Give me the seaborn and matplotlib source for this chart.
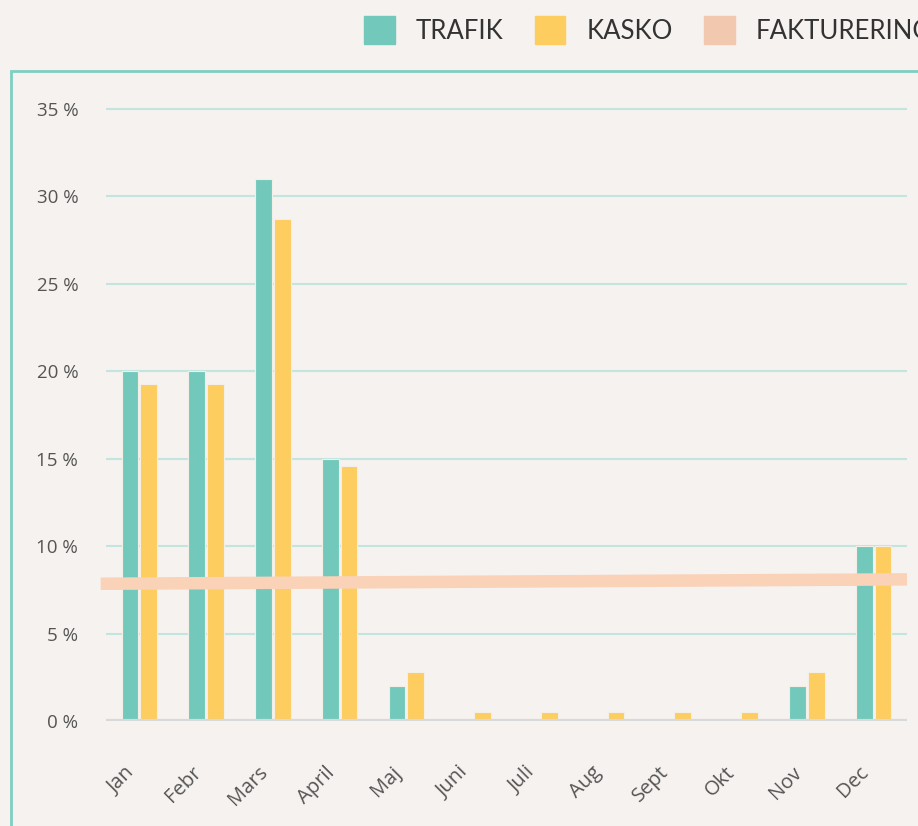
import pandas as pd
import numpy as np
import matplotlib.pyplot as plt
import matplotlib.patches as mpatches
import matplotlib.transforms as mtransforms
import seaborn as sns

# Data
months = ["Jan", "Febr", "Mars", "April", "Maj", "Juni", "Juli", "Aug", "Sept", "Okt", "Nov", "Dec"]
trafik = [20, 20, 31, 15, 2, 0, 0, 0, 0, 0, 2, 10]
kasko = [19.3, 19.3, 28.7, 14.6, 2.8, 0.5, 0.5, 0.5, 0.5, 0.5, 2.8, 10]
fakturering = [7.85, 8.1]  # start / end of the line

bg = "#F6F2EF"
teal = "#72C9BB"
yellow = "#FECD5F"
peach = "#FAD2B8"

df = pd.DataFrame({"Month": months * 2,
                   "Value": trafik + kasko,
                   "Serie": ["TRAFIK"] * 12 + ["KASKO"] * 12})

sns.set_style("white")
plt.rcParams['font.family'] = ['Open Sans', 'DejaVu Sans']

fig = plt.figure(figsize=(9.18, 8.26), dpi=100, facecolor=bg)
# 0 % at y=721, 35 % at y=109 -> leave a little headroom above 35 %
ax = fig.add_axes([106 / 918, 105 / 826, 801 / 918, 617.2 / 826])
ax.set_facecolor(bg)

sns.barplot(data=df, x="Month", y="Value", hue="Serie", palette=[teal, yellow],
            width=0.56, gap=0.1, ax=ax, legend=False, saturation=1,
            edgecolor="#F3EFE6", linewidth=0.8)

ax.set_xlim(-0.5, 11.5)
ax.set_ylim(0, 35.3)
ax.plot([-0.58, 11.5], fakturering, color=peach, lw=9, solid_capstyle="butt",
        clip_on=False, zorder=5)

ax.set_yticks(range(0, 36, 5))
ax.set_yticklabels([f"{v} %" for v in range(0, 36, 5)])
ax.grid(axis="y", color="#C3E5E0", lw=1.5)
ax.set_axisbelow(True)
ax.axhline(0, color="#D9D9D9", lw=3, zorder=1)
for s in ax.spines.values():
    s.set_visible(False)
ax.set_xlabel("")
ax.set_ylabel("")
ax.tick_params(axis="y", length=0, pad=20, labelsize=13.5, labelcolor="#555555")
ax.tick_params(axis="x", length=0, pad=35, labelsize=14.5, labelcolor="#555555")
shift = mtransforms.ScaledTranslation(-8 / 100, 0, fig.dpi_scale_trans)
for lbl in ax.get_xticklabels():
    lbl.set_rotation(45)
    lbl.set_ha("right")
    lbl.set_va("center")
    lbl.set_rotation_mode("anchor")
    lbl.set_transform(lbl.get_transform() + shift)

# teal frame around the chart
frame = mpatches.Rectangle((11 / 918, -0.1), 1.2, 1 - 71 / 826 + 0.1, transform=fig.transFigure,
                           fill=False, edgecolor="#7DCFC1", lw=2)
fig.patches.append(frame)

handles = [mpatches.Patch(color=teal, label="TRAFIK"),
           mpatches.Patch(color=yellow, label="KASKO"),
           mpatches.Patch(color="#F2C8AF", label="FAKTURERING")]
fig.legend(handles=handles, loc="center left", bbox_to_anchor=(341 / 918, 1 - 30 / 826),
           ncol=3, frameon=False, handlelength=1.2, handleheight=1.28,
           handletextpad=0.82, columnspacing=1.2, labelcolor="#333333",
           prop={"family": ["Lato", "DejaVu Sans"], "size": 18.5})

fig.savefig("out.png", dpi=100, facecolor=bg)
